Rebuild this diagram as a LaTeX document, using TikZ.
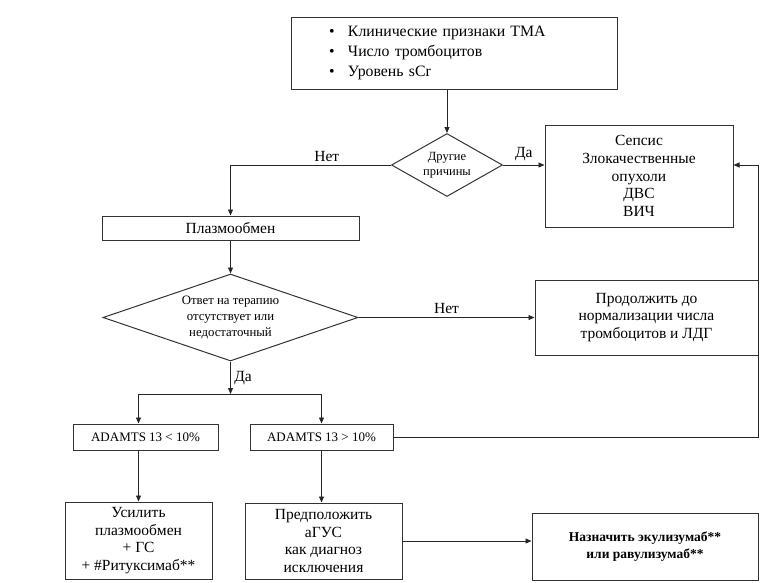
\documentclass[tikz,border=0pt]{standalone}
\usepackage{fontspec}
\setmainfont{Liberation Serif}
\usetikzlibrary{shapes.geometric,arrows.meta}

\begin{document}
\begin{tikzpicture}[x=1pt,y=-1pt,
    box/.style={draw=black!80, line width=1pt, rectangle, align=center, inner sep=0pt},
    dia/.style={draw=black!80, line width=1pt, diamond, align=center, inner sep=0pt},
    arr/.style={line width=0.9pt, draw=black!85, -{Triangle[length=6pt,width=5pt]}},
    txt/.style={font=\fontsize{15.5}{17.7}\selectfont}]
    \useasboundingbox (0,0) rectangle (771,582);
    \node[box, minimum width=326pt, minimum height=72pt, text width=250pt, align=left,
        font=\fontsize{15.8}{19.8}\selectfont] (T) at (454,53)
        {\makebox[19pt][l]{•}Клинические признаки TMA\\
         \makebox[19pt][l]{•}Число тромбоцитов\\
         \makebox[19pt][l]{•}Уровень sCr};
    \node[dia, aspect=1.76, minimum width=111pt, minimum height=63pt,
        font=\fontsize{12.5}{15}\selectfont] (D1) at (447,165) {Другие\\причины};
    \node[box, txt, minimum width=188pt, minimum height=102pt] (S) at (639,176)
        {Сепсис\\Злокачественные\\опухоли\\ДВС\\ВИЧ};
    \node[box, txt, minimum width=257pt, minimum height=24pt] (P) at (230.5,228) {Плазмообмен};
    \node[dia, aspect=2.93, minimum width=255pt, minimum height=87pt,
        font=\fontsize{12.8}{16}\selectfont] (D2) at (230.5,317.5)
        {Ответ на терапию\\отсутствует или\\недостаточный};
    \node[box, txt, minimum width=223pt, minimum height=75pt] (C) at (646.5,317.5)
        {Продолжить до\\нормализации числа\\тромбоцитов и ЛДГ};
    \coordinate (Y) at (230.5,394);
    \node[box, minimum width=145pt, minimum height=26pt, font=\fontsize{13}{15}\selectfont]
        (A1) at (145.5,437) {ADAMTS 13 < 10\%};
    \node[box, minimum width=143pt, minimum height=26pt, font=\fontsize{13}{15}\selectfont]
        (A2) at (321.5,437) {ADAMTS 13 > 10\%};
    \coordinate (R) at (758,437);
    \node[box, txt, minimum width=147pt, minimum height=77pt] (L) at (138.5,540.5)
        {Усилить\\плазмообмен\\+ ГС\\+ \#Ритуксимаб**};
    \node[box, txt, minimum width=157pt, minimum height=76pt] (M) at (323.5,541)
        {Предположить\\аГУС\\как диагноз\\исключения};
    \node[box, minimum width=226pt, minimum height=67pt,
        font=\bfseries\fontsize{13.5}{17}\selectfont] (F) at (645,546.5)
        {Назначить экулизумаб**\\или равулизумаб**};
    \draw[arr] (T.south -| D1.north) -- (D1.north);
    \draw[arr] (D1.west) -| node[txt, pos=0.2, above] {Нет} (P.north);
    \draw[arr] (D1.east) -- node[txt, above] {Да} (D1.east -| S.west);
    \draw[arr] (P.south) -- (D2.north);
    \draw[arr] (D2.east) -- node[txt, above] {Нет} (C.west);
    \draw[arr] (D2.south) -- node[txt, right] {Да} (Y);
    \draw[arr] (Y) -| (A1.north -| L.north);
    \draw[arr] (Y) -| (A2.north);
    \draw[arr] (A1.south -| L.north) -- (L.north);
    \draw[arr] (A2.south) -- (A2.south |- M.north);
    \draw[arr] (A2.east) -| (R |- D1.east) -- (D1.east -| S.east);
    \draw[arr] (M.east) -- (M.east -| F.west);
\end{tikzpicture}
\end{document}
